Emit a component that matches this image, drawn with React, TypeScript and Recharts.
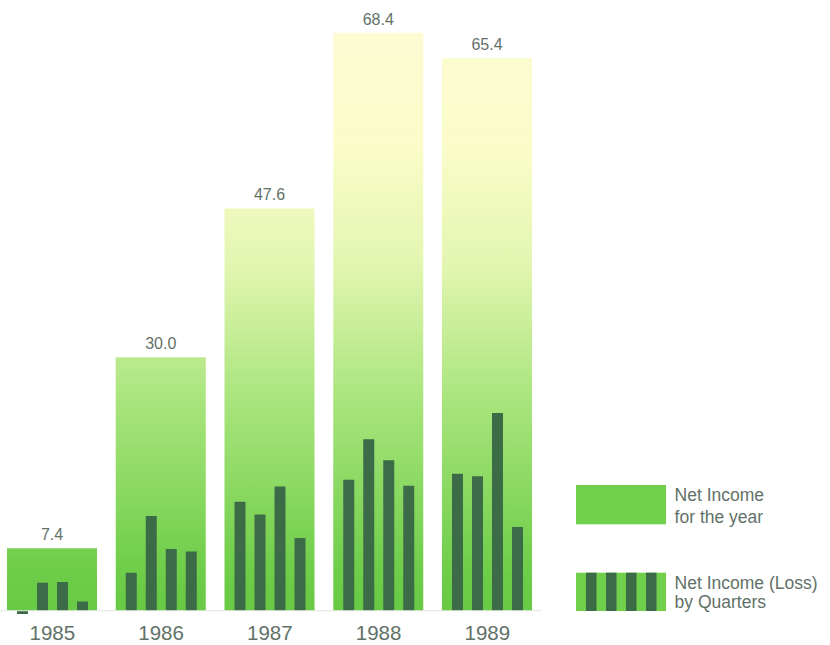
import { BarChart, Bar, XAxis, YAxis, LabelList, Legend, ReferenceLine } from "recharts";

// net income, $ millions
const years = ["1985", "1986", "1987", "1988", "1989"];
const annual = [7.4, 30.0, 47.6, 68.4, 65.4];
const q1 = [-0.4, 4.5, 12.9, 15.5, 16.2];
const q2 = [3.3, 11.2, 11.4, 20.3, 15.9];
const q3 = [3.4, 7.3, 14.7, 17.8, 23.4];
const q4 = [1.1, 7.0, 8.6, 14.8, 9.9];

const data = years.map((year, i) => ({
  year,
  annual: annual[i],
  q1: q1[i],
  q2: q2[i],
  q3: q3[i],
  q4: q4[i],
}));

const FONT = '"Liberation Sans", Arial, sans-serif';
const TEXT = "#627168";
const GREEN = "#70cf4b";
const DARK = "#3c6b47";
const quarterKeys = ["q1", "q2", "q3", "q4"];

function LegendBox() {
  const stripes = [10, 30, 50, 70];
  return (
    <svg width={260} height={130} style={{ display: "block" }}>
      <rect x={0} y={0} width={90} height={39.3} fill={GREEN} />
      <text x={98.6} y={15.7} fontSize={17.5} fill={TEXT} fontFamily={FONT}>
        Net Income
      </text>
      <text x={98.6} y={38.3} fontSize={17.5} fill={TEXT} fontFamily={FONT}>
        for the year
      </text>

      <rect x={0} y={87.7} width={90} height={38.3} fill={GREEN} />
      {stripes.map((x) => (
        <rect key={x} x={x} y={87.7} width={10.5} height={38.3} fill={DARK} />
      ))}
      <text x={98.6} y={104} fontSize={17.5} fill={TEXT} fontFamily={FONT}>
        Net Income (Loss)
      </text>
      <text x={98.6} y={123} fontSize={17.5} fill={TEXT} fontFamily={FONT}>
        by Quarters
      </text>
    </svg>
  );
}

export default function App() {
  return (
    <div style={{ position: "absolute", left: -2, top: 0, background: "#fff" }}>
      <BarChart
        width={832}
        height={645}
        data={data}
        margin={{ top: 2.3, right: 288.25, bottom: 0, left: 0 }}
        barGap={9}
        barCategoryGap={0}
      >
        <defs>
          <linearGradient id="yearFill" gradientUnits="userSpaceOnUse" x1={0} y1={32} x2={0} y2={611}>
            <stop offset="0" stopColor="#fcfbd3" />
            <stop offset="0.195" stopColor="#fbfcc9" />
            <stop offset="0.4" stopColor="#e3f6b1" />
            <stop offset="0.644" stopColor="#a7e47b" />
            <stop offset="0.938" stopColor="#6dcd48" />
            <stop offset="1" stopColor="#68c944" />
          </linearGradient>
        </defs>
        <XAxis
          xAxisId="year"
          dataKey="year"
          height={21.6}
          axisLine={false}
          tickLine={false}
          tickSize={0}
          tickMargin={2}
          tick={{ fill: TEXT, fontSize: 20.5, fontFamily: FONT }}
        />
        {/* quarter bars share the year bands; zero height keeps the visible axis in place */}
        <XAxis xAxisId="q" dataKey="year" height={0} hide />
        <YAxis hide domain={[-1.5, 72]} allowDataOverflow />
        <ReferenceLine xAxisId="year" y={0} stroke="#e2e8df" strokeWidth={1} />
        <Bar xAxisId="year" dataKey="annual" barSize={90} fill="url(#yearFill)" isAnimationActive={false}>
          <LabelList
            dataKey="annual"
            position="top"
            offset={8}
            formatter={(v: number) => v.toFixed(1)}
            style={{ fill: TEXT, fontSize: 16, fontFamily: FONT }}
          />
        </Bar>
        {quarterKeys.map((k) => (
          <Bar key={k} xAxisId="q" dataKey={k} barSize={11} fill={DARK} isAnimationActive={false} />
        ))}
        <Legend
          layout="horizontal"
          align="center"
          verticalAlign="middle"
          content={() => <LegendBox />}
          wrapperStyle={{ left: 577.7, top: 485, width: 260, height: 130 }}
        />
      </BarChart>
    </div>
  );
}
